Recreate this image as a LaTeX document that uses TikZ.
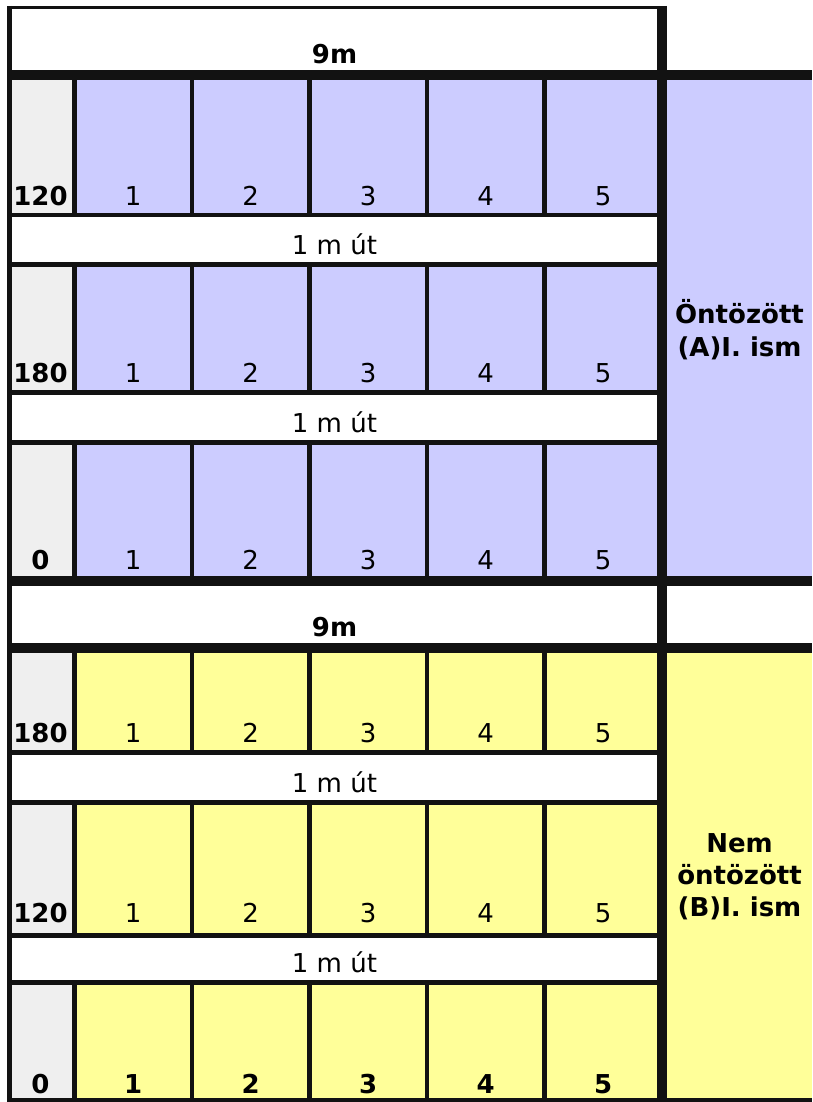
\documentclass[tikz,border=0pt]{standalone}
\usepackage{fontspec}
\setmainfont{DejaVu Sans}
\definecolor{lav}{HTML}{CCCCFF}
\definecolor{yel}{HTML}{FFFF99}
\definecolor{gry}{HTML}{EFEFEF}
\definecolor{ink}{HTML}{121212}
\begin{document}
\begin{tikzpicture}[x=1pt,y=-1pt,
  txt/.style={anchor=base,inner sep=0pt,font=\fontsize{26}{30}\selectfont},
  btxt/.style={anchor=base,inner sep=0pt,font=\fontsize{26}{30}\selectfont\bfseries},
  side/.style={anchor=base,inner sep=0pt,font=\fontsize{26}{30}\selectfont\bfseries},
  thin/.style={draw=ink,line width=4.5pt},
  thick/.style={draw=ink,line width=10pt},
]
\useasboundingbox (0,0) rectangle (812,1102);
\fill[white] (0,0) rectangle (812,1102);
% fills block A
\fill[lav] (74.5,75.5) rectangle (812,581);
\fill[gry] (9.5,75.5) rectangle (74.5,581);
\fill[white] (9.5,215) rectangle (662,264.5);
\fill[white] (9.5,392.5) rectangle (662,442.5);
% fills block B
\fill[yel] (74.5,648) rectangle (812,1100);
\fill[gry] (9.5,648) rectangle (74.5,1100);
\fill[white] (9.5,752.5) rectangle (662,802.5);
\fill[white] (9.5,935.5) rectangle (662,982.5);
% vertical thin lines in plot rows
\foreach \ya/\yb in {75.5/215,264.5/392.5,442.5/581,648/752.5,802.5/935.5,982.5/1100}{
  \foreach \x in {74.5,192,309.5,427,544.5}{
    \draw[thin] (\x,\ya) -- (\x,\yb);
  }
}
% thin horizontal lines
\foreach \y in {215,264.5,392.5,442.5,752.5,802.5,935.5,982.5}{
  \draw[thin] (7,\y) -- (662,\y);
}
\draw[draw=ink,line width=4pt] (7,1100) -- (812,1100);
% top and left borders
\draw[draw=ink,line width=3pt] (7,7.5) -- (662,7.5);
\draw[draw=ink,line width=5pt] (9.5,6) -- (9.5,1102);
% thick lines
\foreach \y in {75.5,581,648}{
  \draw[thick] (7,\y) -- (812,\y);
}
\draw[thick] (662,6) -- (662,1102);
% headers
\node[btxt] (hA) at (334.5,64) {9m};
\node[btxt] (hB) at (334.5,636) {9m};
% roads
\node[txt] (rA1) at (334.5,254) {1 m út};
\node[txt] (rA2) at (334.5,432) {1 m út};
\node[txt] (rB1) at (334.5,792) {1 m út};
\node[txt] (rB2) at (334.5,972) {1 m út};
% row labels
\node[btxt] (lA1) at (40.5,205) {120};
\node[btxt] (lA2) at (40.5,382) {180};
\node[btxt] (lA3) at (40.5,569) {0};
\node[btxt] (lB1) at (40.5,742) {180};
\node[btxt] (lB2) at (40.5,922) {120};
\node[btxt] (lB3) at (40.5,1093) {0};
% cell numbers
\foreach \r/\y in {A1/205,A2/382,A3/569,B1/742,B2/922}{
  \foreach \i/\x in {1/133.25,2/250.75,3/368.25,4/485.75,5/603.25}{
    \node[txt] (n\r-\i) at (\x,\y) {\i};
  }
}
\foreach \i/\x in {1/133.25,2/250.75,3/368.25,4/485.75,5/603.25}{
  \node[btxt] (nB3-\i) at (\x,1093) {\i};
}
% side labels
\node[side] (sA1) at (739.5,323) {Öntözött};
\node[side] (sA2) at (739.5,356) {(A)I. ism};
\node[side] (sB1) at (739.5,852) {Nem};
\node[side] (sB2) at (739.5,884) {öntözött};
\node[side] (sB3) at (739.5,916) {(B)I. ism};
\end{tikzpicture}
\end{document}
